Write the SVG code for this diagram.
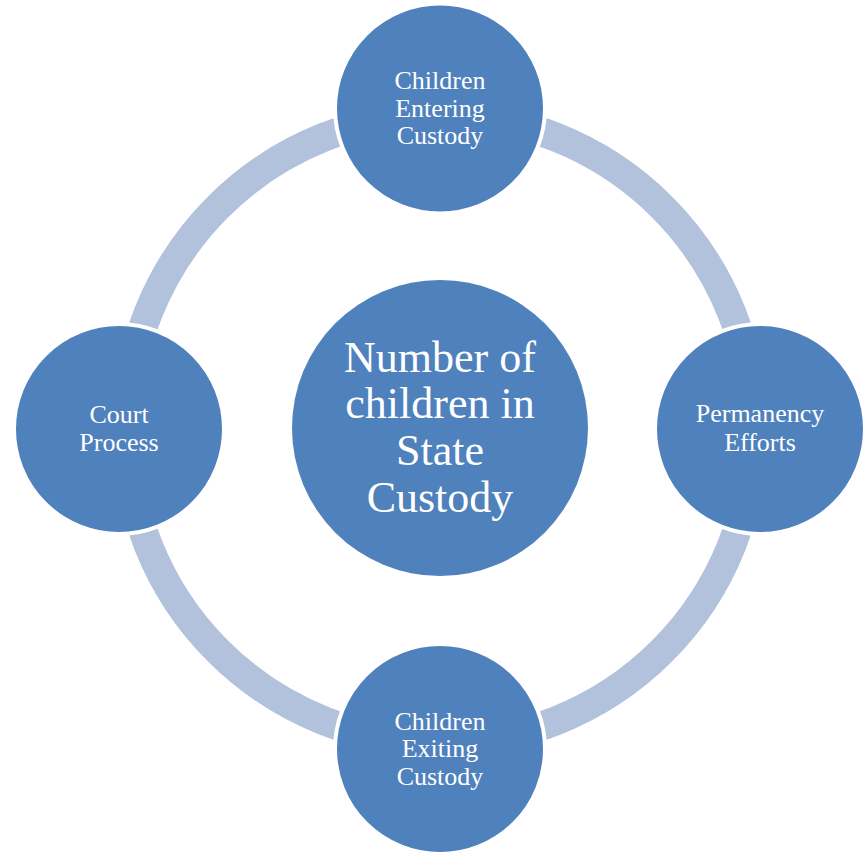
<svg xmlns="http://www.w3.org/2000/svg" width="867" height="852" viewBox="0 0 867 852">
<style>
.node{fill:#4f81bd}
.outer{fill:#4f81bd;stroke:#ffffff;stroke-width:4}
.ring{fill:none;stroke:#b2c1dc;stroke-width:29}
text{font-family:"Liberation Serif","Times New Roman",serif;fill:#ffffff;text-anchor:middle}
.s{font-size:26px}
.b{font-size:44px}
</style>
<rect width="867" height="852" fill="#ffffff"/>
<g id="connectors">
<circle class="ring" cx="440" cy="429" r="314"/>
</g>
<g id="center">
<circle class="node" cx="440" cy="428" r="148"/>
<text class="b" x="440" y="372">Number of</text>
<text class="b" x="440" y="418">children in</text>
<text class="b" x="440" y="465">State</text>
<text class="b" x="440" y="512">Custody</text>
</g>
<g id="top">
<circle class="outer" cx="440" cy="108.5" r="105"/>
<text class="s" x="440" y="89">Children</text>
<text class="s" x="440" y="117">Entering</text>
<text class="s" x="440" y="144">Custody</text>
</g>
<g id="right">
<circle class="outer" cx="760" cy="429" r="105"/>
<text class="s" x="760" y="422">Permanency</text>
<text class="s" x="760" y="451">Efforts</text>
</g>
<g id="bottom">
<circle class="outer" cx="440" cy="749" r="105"/>
<text class="s" x="440" y="730">Children</text>
<text class="s" x="440" y="757">Exiting</text>
<text class="s" x="440" y="785">Custody</text>
</g>
<g id="left">
<circle class="outer" cx="119" cy="429" r="105"/>
<text class="s" x="119" y="423">Court</text>
<text class="s" x="119" y="451">Process</text>
</g>
</svg>
